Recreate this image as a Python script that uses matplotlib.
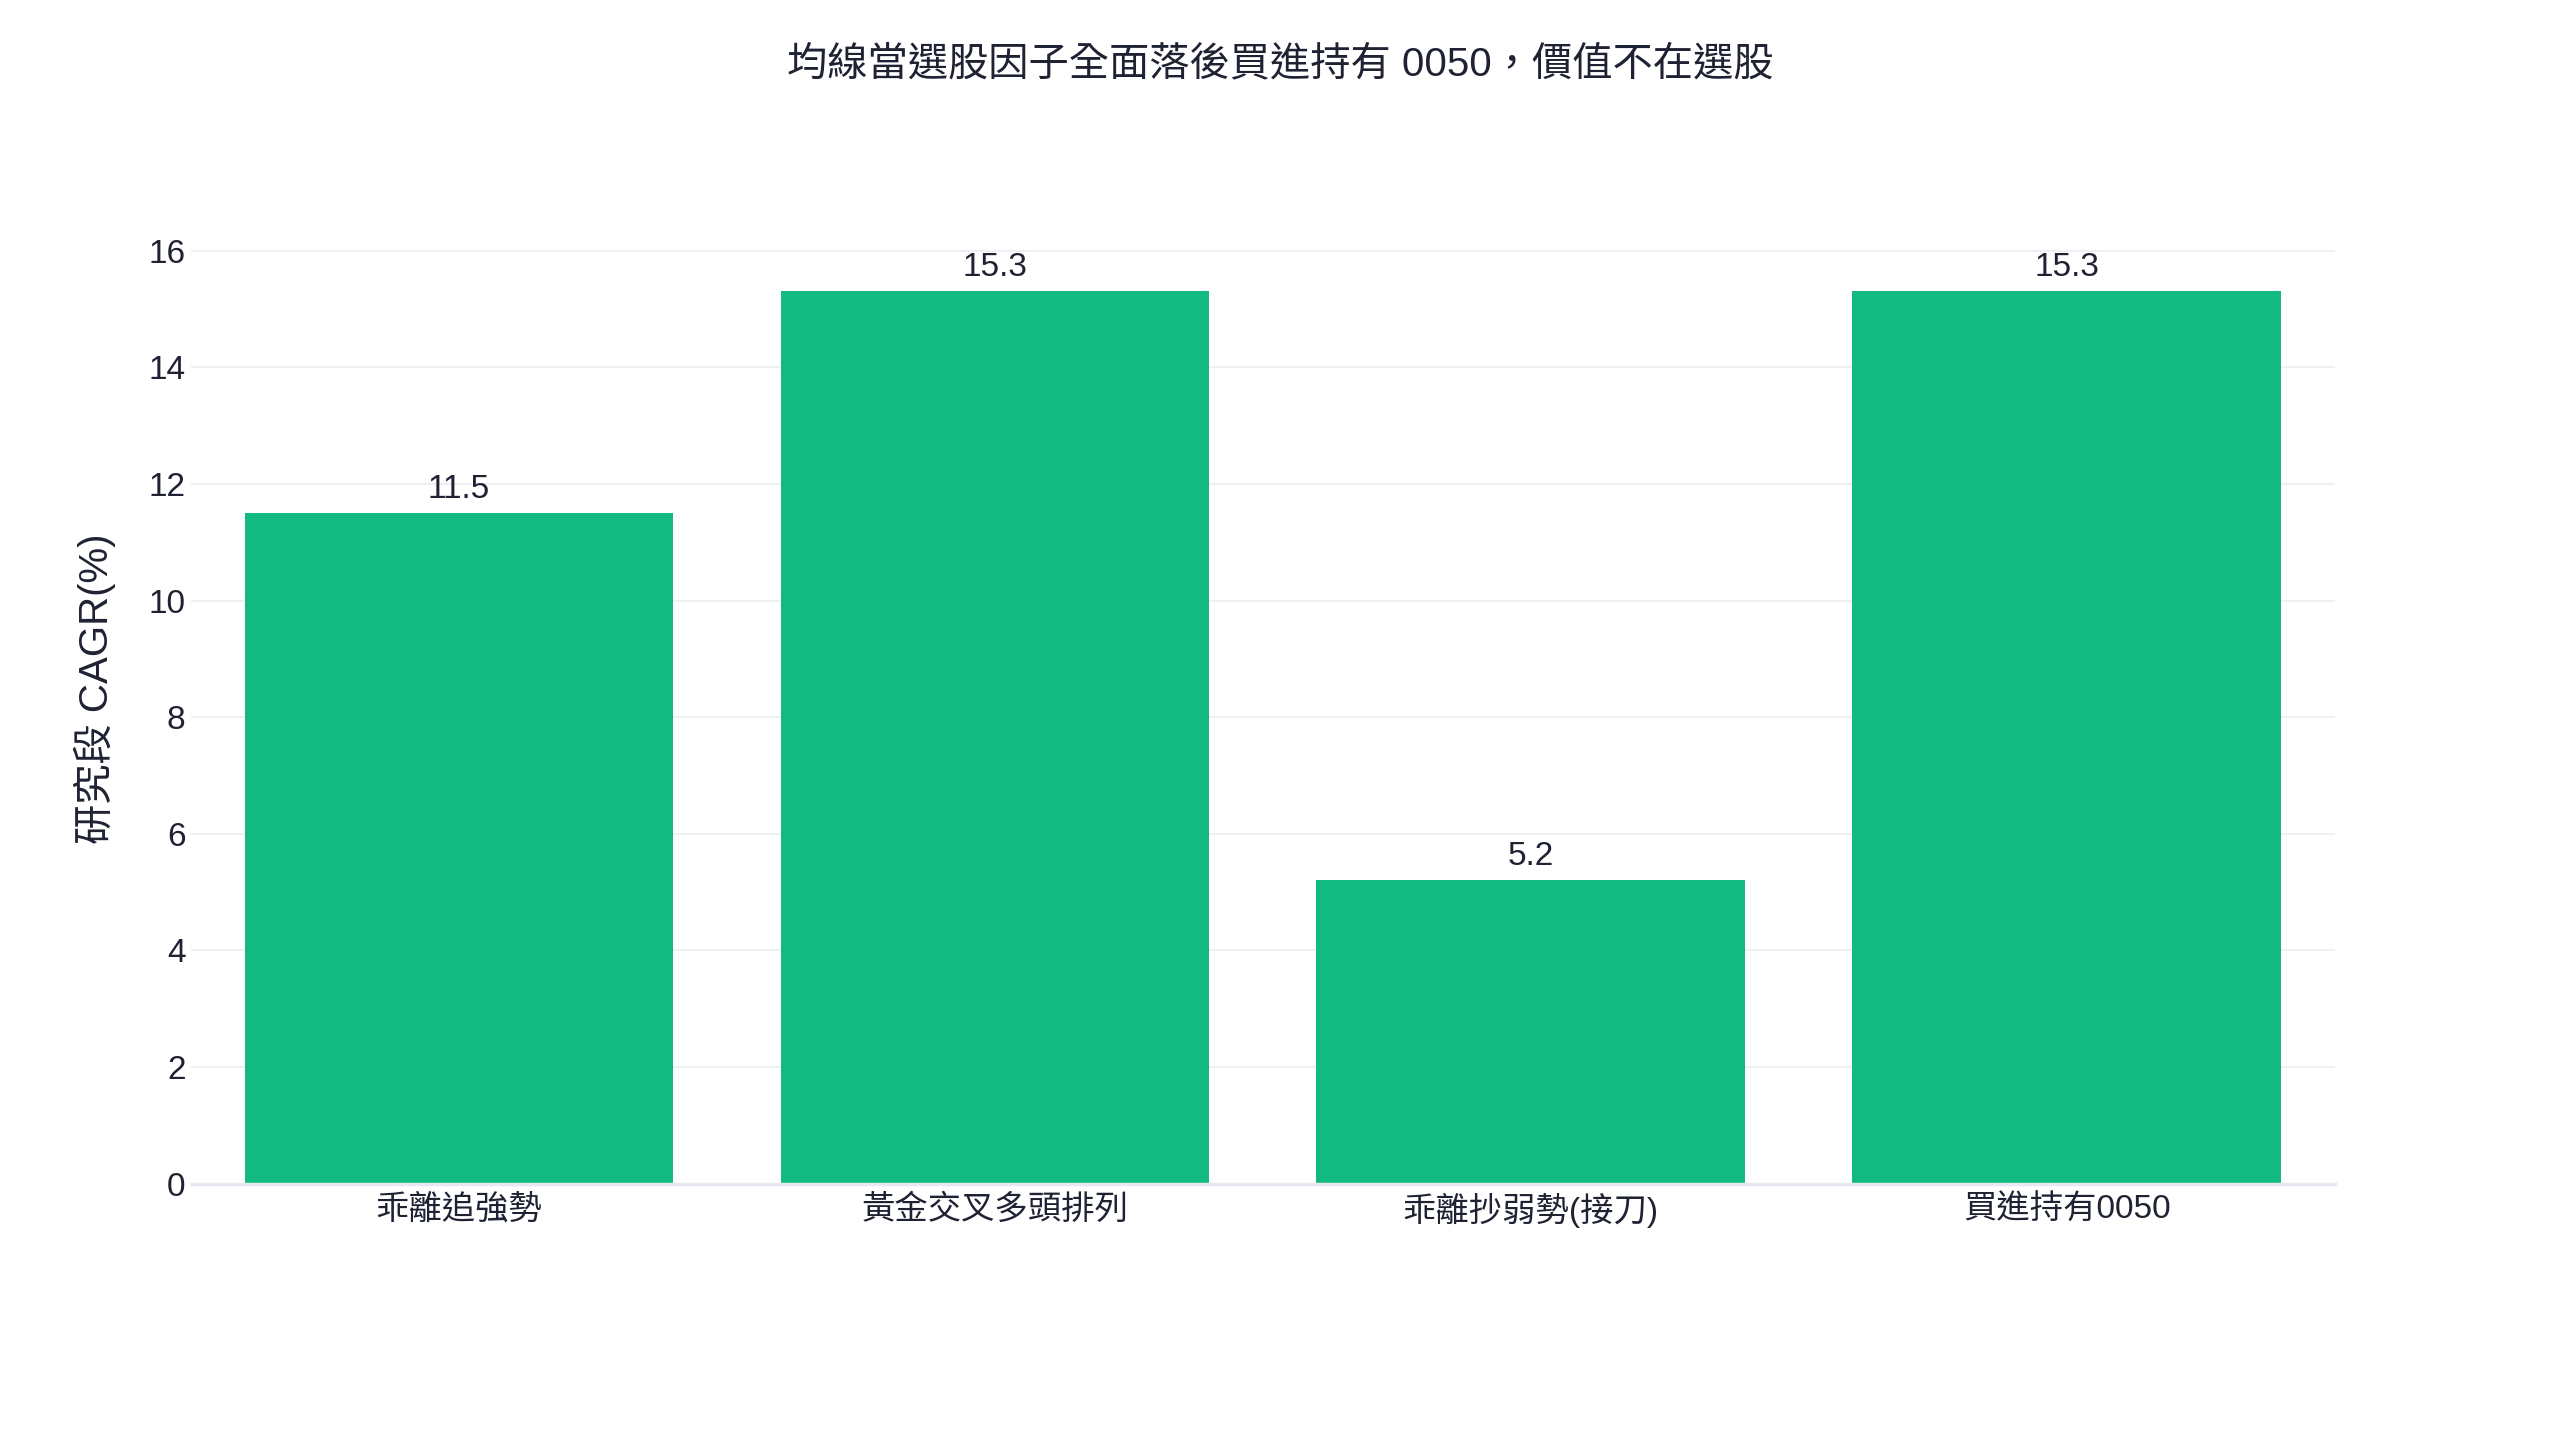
import matplotlib
matplotlib.use("Agg")
import matplotlib.pyplot as plt

plt.rcParams['font.family'] = ['Liberation Sans', 'Noto Sans CJK TC', 'DejaVu Sans']

title = "均線當選股因子全面落後買進持有 0050，價值不在選股"
strategies = ["乖離追強勢", "黃金交叉多頭排列", "乖離抄弱勢(接刀)", "買進持有0050"]
cagr = [11.5, 15.3, 5.2, 15.3]
yticks = [0, 2, 4, 6, 8, 10, 12, 14, 16]

txt = '#1e2233'
bar_color = '#12ba82'

fig = plt.figure(figsize=(25.6, 14.4), dpi=100)
ax = fig.add_axes([0.0746, 0.178, 0.912 - 0.0746, 0.830 - 0.178])

x = range(len(strategies))
bars = ax.bar(x, cagr, width=0.8, color=bar_color, zorder=3)
for b, v in zip(bars, cagr):
    ax.annotate(f"{v:.1f}", (b.get_x() + b.get_width() / 2, v),
                xytext=(0, 6), textcoords='offset points',
                ha='center', va='bottom', fontsize=24, color=txt)

ax.set_xlim(-0.5, len(strategies) - 0.5)
ax.set_ylim(0, 16.1)
ax.set_yticks(yticks)
ax.set_xticks(list(x))
ax.set_xticklabels(strategies, va='center')
ax.tick_params(axis='both', length=0, labelsize=24, colors=txt)
ax.tick_params(axis='x', pad=19)
ax.tick_params(axis='y', pad=4)
ax.grid(axis='y', color='#eef0f5', linewidth=1.5, zorder=0)
for s in ['top', 'right', 'left']:
    ax.spines[s].set_visible(False)
ax.spines['bottom'].set_color('#e6e9f1')
ax.spines['bottom'].set_linewidth(2.5)
ax.spines['bottom'].set_zorder(4)

ax.set_ylabel("研究段 CAGR(%)", fontsize=29, color=txt)
ax.yaxis.set_label_coords(-0.035, 0.527)
fig.text(0.5, 0.955, title, ha='center', va='center', fontsize=29, color=txt)

fig.savefig("out.png", dpi=100)
